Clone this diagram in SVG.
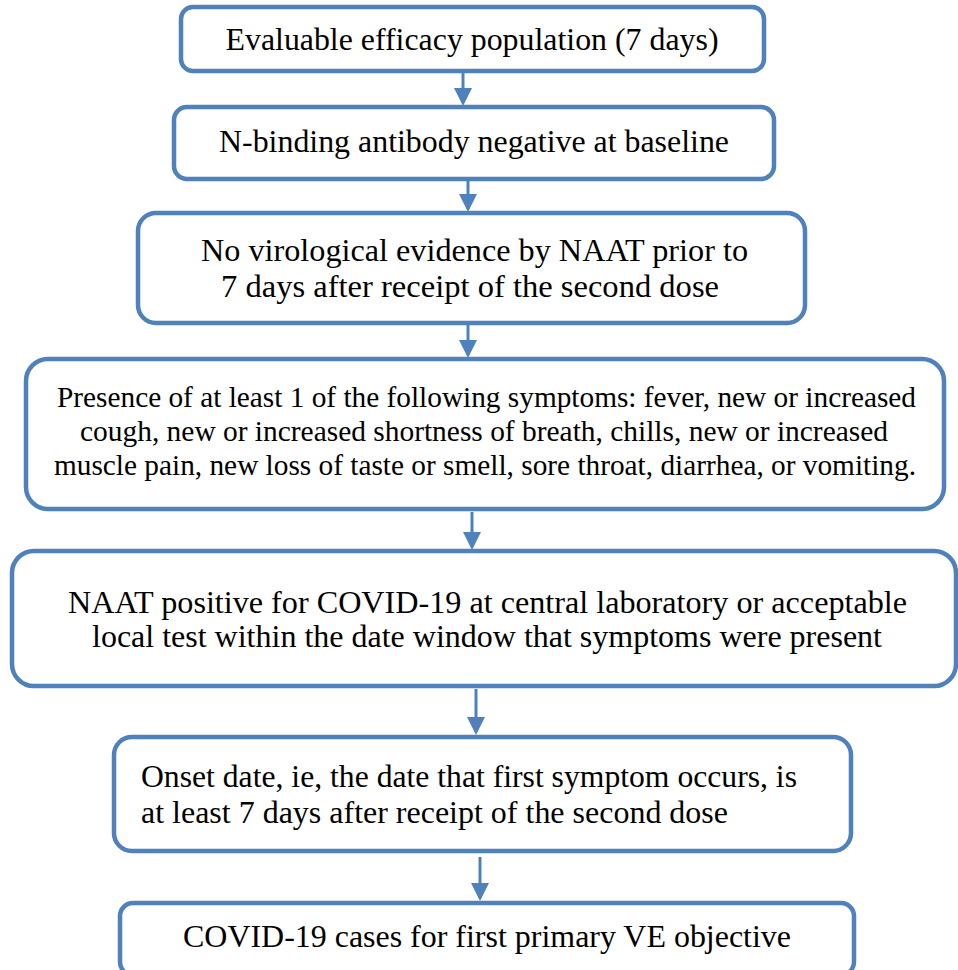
<svg xmlns="http://www.w3.org/2000/svg" width="958" height="970" viewBox="0 0 958 970" font-family="Liberation Serif, Tinos, Times New Roman, Nimbus Roman, FreeSerif, Times, Noto Serif, DejaVu Serif, serif">
<style>
.box{fill:#ffffff;stroke:#4f81bd;stroke-width:4.5}
.t{font-size:31px;fill:#000}
.s{font-size:29px}
.c{stroke:#4f81bd;stroke-width:3;fill:none}
</style>
<defs>
<marker id="ah" markerWidth="6" markerHeight="6" refX="5" refY="3" orient="auto" markerUnits="strokeWidth">
<path d="M0,0 L6,3 L0,6 z" fill="#4f81bd"/>
</marker>
</defs>
<rect width="958" height="970" fill="#ffffff"/>
<g id="connectors">
<line class="c" x1="463" y1="73" x2="463" y2="103" marker-end="url(#ah)"/>
<line class="c" x1="468" y1="181" x2="468" y2="209" marker-end="url(#ah)"/>
<line class="c" x1="468" y1="325" x2="468" y2="355" marker-end="url(#ah)"/>
<line class="c" x1="472" y1="512" x2="472" y2="547" marker-end="url(#ah)"/>
<line class="c" x1="476" y1="689" x2="476" y2="732" marker-end="url(#ah)"/>
<line class="c" x1="480" y1="857" x2="480" y2="898" marker-end="url(#ah)"/>
</g>
<g id="n1">
<rect class="box" x="181" y="7" width="583" height="64" rx="12"/>
<text class="t" x="472" y="50" text-anchor="middle" textLength="493" lengthAdjust="spacingAndGlyphs">Evaluable efficacy population (7 days)</text>
</g>
<g id="n2">
<rect class="box" x="174" y="107" width="600" height="72" rx="13"/>
<text class="t" x="474" y="152" text-anchor="middle" textLength="510" lengthAdjust="spacingAndGlyphs">N-binding antibody negative at baseline</text>
</g>
<g id="n3">
<rect class="box" x="138" y="213" width="667" height="110" rx="18"/>
<text class="t" x="474.5" y="261" text-anchor="middle" textLength="547" lengthAdjust="spacingAndGlyphs">No virological evidence by NAAT prior to</text>
<text class="t" x="470" y="297" text-anchor="middle" textLength="498" lengthAdjust="spacingAndGlyphs">7 days after receipt of the second dose</text>
</g>
<g id="n4">
<rect class="box" x="26" y="359" width="918" height="150" rx="22"/>
<text class="t s" x="486.5" y="407" text-anchor="middle" textLength="859" lengthAdjust="spacingAndGlyphs">Presence of at least 1 of the following symptoms: fever, new or increased</text>
<text class="t s" x="484" y="441" text-anchor="middle" textLength="808" lengthAdjust="spacingAndGlyphs">cough, new or increased shortness of breath, chills, new or increased</text>
<text class="t s" x="485" y="475" text-anchor="middle" textLength="862" lengthAdjust="spacingAndGlyphs">muscle pain, new loss of taste or smell, sore throat, diarrhea, or vomiting.</text>
</g>
<g id="n5">
<rect class="box" x="12" y="551" width="944" height="135" rx="22"/>
<text class="t" x="487.5" y="613" text-anchor="middle" textLength="839" lengthAdjust="spacingAndGlyphs">NAAT positive for COVID-19 at central laboratory or acceptable</text>
<text class="t" x="487" y="647" text-anchor="middle" textLength="790" lengthAdjust="spacingAndGlyphs">local test within the date window that symptoms were present</text>
</g>
<g id="n6">
<rect class="box" x="114" y="737" width="737" height="114" rx="18"/>
<text class="t" x="141" y="787" textLength="656" lengthAdjust="spacingAndGlyphs">Onset date, ie, the date that first symptom occurs, is</text>
<text class="t" x="141" y="823" textLength="587" lengthAdjust="spacingAndGlyphs">at least 7 days after receipt of the second dose</text>
</g>
<g id="n7">
<rect class="box" x="120" y="903" width="734" height="72" rx="13"/>
<text class="t" x="487" y="947" text-anchor="middle" textLength="608" lengthAdjust="spacingAndGlyphs">COVID-19 cases for first primary VE objective</text>
</g>
</svg>
